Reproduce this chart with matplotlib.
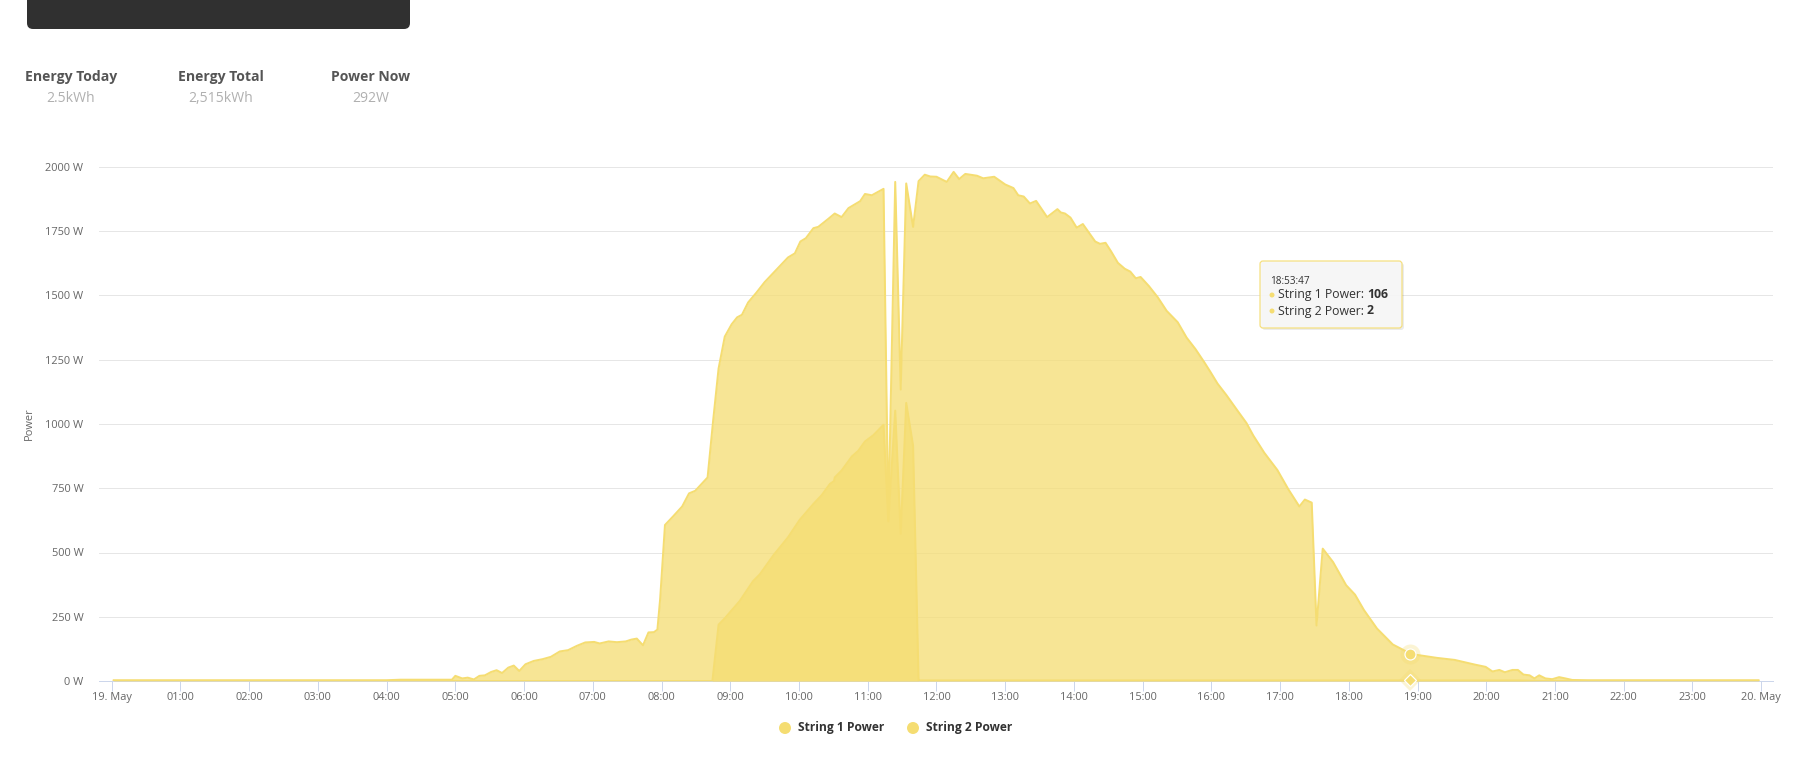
import matplotlib
matplotlib.use('Agg')
import matplotlib.pyplot as plt
from matplotlib.patches import FancyBboxPatch, Circle
from matplotlib.transforms import IdentityTransform

# ---------------- data ----------------
s1_hours = [0.03, 1.0, 2.0, 3.0, 4.0, 4.2, 4.95, 5.00, 5.10, 5.18, 5.27, 5.35, 5.43, 5.52, 5.60,
            5.68, 5.77, 5.85, 5.93, 6.02, 6.14, 6.27, 6.39, 6.52, 6.64, 6.77, 6.89, 7.02, 7.10,
            7.23, 7.35, 7.48, 7.56, 7.64, 7.73, 7.81, 7.89, 7.94, 7.98, 8.05, 8.17, 8.30, 8.40,
            8.49, 8.67, 8.75, 8.83, 8.92, 9.02, 9.10, 9.17, 9.26, 9.38, 9.50, 9.67, 9.84, 9.94,
            10.02, 10.10, 10.21, 10.28, 10.43, 10.52, 10.62, 10.72, 10.89, 10.96, 11.06, 11.23,
            11.30, 11.40, 11.48, 11.56, 11.66, 11.74, 11.83, 11.91, 12.00, 12.15, 12.25, 12.33,
            12.42, 12.59, 12.68, 12.84, 13.00, 13.12, 13.19, 13.27, 13.36, 13.45, 13.61, 13.76,
            13.81, 13.87, 13.95, 14.04, 14.13, 14.31, 14.38, 14.46, 14.54, 14.64, 14.74, 14.82,
            14.90, 14.97, 15.09, 15.22, 15.35, 15.51, 15.64, 15.77, 15.90, 15.99, 16.09, 16.22,
            16.38, 16.51, 16.61, 16.77, 16.96, 17.12, 17.28, 17.36, 17.46, 17.53, 17.62, 17.77,
            17.96, 18.09, 18.22, 18.41, 18.64, 18.90, 19.03, 19.28, 19.54, 19.83, 19.99, 20.09,
            20.19, 20.27, 20.38, 20.46, 20.54, 20.63, 20.70, 20.77, 20.86, 20.96, 21.06, 21.15,
            21.25, 21.48, 22.0, 23.0, 23.96]
s1_power = [3, 3, 3, 3, 3, 5, 5, 20, 10, 13, 6, 20, 22, 35, 42,
            31, 52, 60, 39, 65, 78, 85, 94, 115, 120, 137, 150, 152, 146,
            154, 151, 154, 161, 165, 139, 189, 190, 200, 320, 607, 641, 679, 730,
            740, 792, 1011, 1216, 1340, 1388, 1415, 1425, 1473, 1511, 1552, 1600, 1648, 1664,
            1710, 1723, 1762, 1767, 1799, 1819, 1805, 1840, 1867, 1895, 1890, 1915,
            627, 1942, 1134, 1936, 1767, 1945, 1970, 1963, 1962, 1942, 1981, 1953,
            1973, 1966, 1956, 1962, 1932, 1918, 1890, 1885, 1858, 1868, 1805, 1836,
            1823, 1819, 1803, 1764, 1778, 1710, 1701, 1705, 1672, 1627, 1604, 1593,
            1567, 1572, 1537, 1493, 1440, 1396, 1336, 1291, 1239, 1201, 1157, 1112,
            1052, 1004, 955, 888, 821, 746, 679, 706, 694, 216, 515, 463,
            373, 336, 276, 204, 142, 106, 100, 90, 82, 64, 55, 37,
            43, 34, 43, 43, 25, 22, 10, 22, 10, 7, 15, 10,
            4, 3, 3, 3, 3]

s2_hours = [0.03, 8.74, 8.83, 8.92, 9.14, 9.33, 9.43, 9.63, 9.84, 10.01, 10.21, 10.33, 10.45,
            10.51, 10.52, 10.62, 10.77, 10.86, 10.96, 11.08, 11.23, 11.30, 11.40, 11.48, 11.56,
            11.66, 11.74, 11.76, 20.5, 20.8, 23.96]
s2_power = [0, 0, 219, 244, 312, 388, 415, 490, 559, 627, 689, 723, 767,
            778, 792, 819, 874, 895, 932, 956, 997, 621, 1052, 573, 1082,
            915, 0, 2, 2, 0, 0]

series_names = ['String 1 Power', 'String 2 Power']
x_tick_labels = ['19. May'] + ['%02d:00' % h for h in range(1, 24)] + ['20. May']
y_ticks = [0, 250, 500, 750, 1000, 1250, 1500, 1750, 2000]
y_tick_labels = ['%d W' % v for v in y_ticks]

header_labels = ['Energy Today', 'Energy Total', 'Power Now']
header_values = ['2.5kWh', '2,515kWh', '292W']

tooltip_time = '18:53:47'
tooltip_hour = 18.896
tooltip_vals = [106, 2]

# ---------------- figure ----------------
W, H = 1795, 765
plt.rcParams['font.family'] = ['Open Sans', 'DejaVu Sans']
fig = plt.figure(figsize=(W / 100, H / 100), dpi=100)
fig.patch.set_facecolor('white')


def fx(x):
    return x / W


def fy(y):
    return 1 - y / H


def pt(px):
    return px * 72 / 100


C = '#f5dd72'
ax = fig.add_axes([99 / W, (H - 681) / H, (1772.7 - 99) / W, (681 - 167) / H])
ax.set_xlim(-0.1848, 24.167)
ax.set_ylim(0, 2000)

ax.fill_between(s1_hours, 0, s1_power, color=C, alpha=0.75, lw=0, zorder=2)
ax.plot(s1_hours, s1_power, color=C, lw=pt(2), zorder=3, solid_joinstyle='round')
ax.fill_between(s2_hours, 0, s2_power, color=C, alpha=0.75, lw=0, zorder=4)
ax.plot(s2_hours, s2_power, color=C, lw=pt(2), zorder=5, solid_joinstyle='round')

# hover markers
ax.plot([tooltip_hour], [tooltip_vals[0]], 'o', ms=pt(20), color=C, alpha=0.3, mew=0,
        zorder=6, clip_on=False)
ax.plot([tooltip_hour], [tooltip_vals[0]], 'o', ms=pt(11), mfc=C, mec='white', mew=pt(1.2),
        zorder=7, clip_on=False)
ax.plot([tooltip_hour], [tooltip_vals[1]], 'D', ms=pt(20) * 0.75, color=C, alpha=0.3, mew=0,
        zorder=6, clip_on=False)
ax.plot([tooltip_hour], [tooltip_vals[1]], 'D', ms=pt(9), mfc=C, mec='white', mew=pt(1.2),
        zorder=7, clip_on=False)

for s in ['top', 'right', 'left']:
    ax.spines[s].set_visible(False)
ax.spines['bottom'].set_color('#ccd6eb')
ax.spines['bottom'].set_linewidth(pt(1))
ax.spines['bottom'].set_zorder(1)

ax.set_yticks(y_ticks)
ax.set_yticklabels(y_tick_labels)
ax.set_xticks(list(range(25)))
ax.set_xticklabels(x_tick_labels)
ax.yaxis.grid(True, color='#e6e6e6', lw=pt(1))
ax.set_axisbelow(True)
ax.tick_params(axis='y', length=0, pad=pt(15.7), labelsize=pt(11), labelcolor='#666666')
ax.tick_params(axis='x', length=pt(10), width=pt(1), color='#ccd6eb', pad=pt(1),
               labelsize=pt(11), labelcolor='#666666')

fig.text(fx(29), fy(424), 'Power', rotation=90, ha='center', va='center',
         fontsize=pt(11), color='#666666')

# ---------------- header ----------------
idt = IdentityTransform()
fig.add_artist(FancyBboxPatch((27, H - 29), 383, 60, boxstyle='round,pad=0,rounding_size=6',
                              transform=idt, fc='#303030', ec='none'))
for cx, lab, val in zip([71, 221, 371], header_labels, header_values):
    fig.text(fx(cx), fy(77), lab, ha='center', va='center', fontsize=pt(14),
             fontweight='bold', color='#555555')
    fig.text(fx(cx), fy(99), val, ha='center', va='center', fontsize=pt(14),
             color='#b0b0b0')

# ---------------- legend ----------------
for mx, name in zip([785, 913], series_names):
    fig.add_artist(Circle((mx, H - 728), 6, transform=idt, fc=C, ec='none'))
    fig.text(fx(mx + 13), fy(728), name, ha='left', va='center', fontsize=pt(12),
             fontweight='bold', color='#333333')

# ---------------- tooltip ----------------
fig.add_artist(FancyBboxPatch((1262, H - 330), 142, 67, boxstyle='round,pad=0,rounding_size=3',
                              transform=idt, fc='#000000', alpha=0.08, ec='none'))
fig.add_artist(FancyBboxPatch((1260, H - 328), 142, 67, boxstyle='round,pad=0,rounding_size=3',
                              transform=idt, fc='#f7f7f7', alpha=0.92, ec=C, lw=pt(1.2)))
fig.text(fx(1270), fy(281), tooltip_time, ha='left', va='center', fontsize=pt(10),
         color='#333333')
fig.canvas.draw()
renderer = fig.canvas.get_renderer()
for row_y, name, v in zip([295, 311], series_names, tooltip_vals):
    fig.add_artist(Circle((1272, H - row_y), 2.5, transform=idt, fc=C, ec='none'))
    t = fig.text(fx(1278), fy(row_y), name + ': ', ha='left', va='center',
                 fontsize=pt(12.3), color='#333333')
    bb = t.get_window_extent(renderer)
    fig.text(bb.x1 / W, fy(row_y), str(v), ha='left', va='center', fontsize=pt(12.3),
             fontweight='bold', color='#333333')

fig.savefig('out.png', dpi=100, facecolor='white')
